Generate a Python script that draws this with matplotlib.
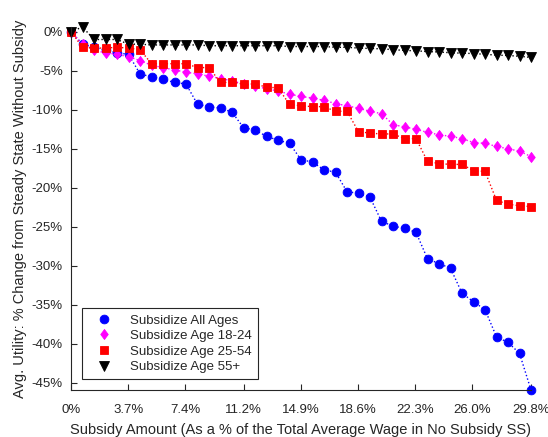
import matplotlib
matplotlib.use('Agg')
import matplotlib.pyplot as plt
from matplotlib.lines import Line2D
from matplotlib.ticker import FuncFormatter
import numpy as np

plt.rcParams['font.family'] = ['Liberation Sans', 'DejaVu Sans']

# subsidy grid: 41 steps up to 29.8% of the average wage
subsidy = np.linspace(0, 29.8, 41)

all_ages = [0, -1.6, -2.0, -2.4, -2.7, -2.9, -5.4, -5.8, -6.1, -6.5,
            -6.7, -9.3, -9.6, -9.8, -10.3, -12.3, -12.6, -13.4, -13.9, -14.3,
            -16.4, -16.7, -17.7, -18.0, -20.5, -20.7, -21.2, -24.3, -24.9, -25.2,
            -25.7, -29.1, -29.7, -30.3, -33.5, -34.6, -35.6, -39.1, -39.8, -41.2,
            -45.9]
age_18_24 = [0, -1.6, -2.4, -2.7, -2.9, -3.2, -3.7, -4.3, -4.6, -4.9,
             -5.2, -5.4, -5.7, -6.0, -6.3, -6.7, -7.0, -7.3, -7.6, -8.0,
             -8.3, -8.5, -8.8, -9.2, -9.5, -9.8, -10.2, -10.5, -11.9, -12.2,
             -12.5, -12.9, -13.2, -13.4, -13.7, -14.2, -14.3, -14.7, -15.0, -15.3,
             -16.0]
age_25_54 = [0, -2.0, -2.1, -2.1, -2.0, -2.1, -2.3, -4.1, -4.1, -4.1,
             -4.1, -4.6, -4.6, -6.5, -6.5, -6.7, -6.7, -7.1, -7.2, -9.3,
             -9.5, -9.6, -9.6, -10.2, -10.2, -12.8, -13.0, -13.1, -13.1, -13.7,
             -13.7, -16.6, -16.9, -17.0, -17.0, -17.8, -17.9, -21.6, -22.1, -22.3,
             -22.4]
age_55_plus = [0, 0.6, -1.0, -1.0, -1.0, -1.6, -1.6, -1.7, -1.7, -1.7,
               -1.7, -1.7, -1.8, -1.8, -1.8, -1.8, -1.8, -1.8, -1.8, -1.9,
               -1.9, -1.9, -1.9, -2.0, -2.0, -2.1, -2.15, -2.2, -2.3, -2.4,
               -2.45, -2.55, -2.6, -2.7, -2.75, -2.8, -2.9, -3.0, -3.05, -3.15,
               -3.3]

labels = ['Subsidize All Ages', 'Subsidize Age 18-24',
          'Subsidize Age 25-54', 'Subsidize Age 55+']
colors = ['#0000ff', '#ff00ff', '#ff0000', '#000000']
# diamond a bit narrower than it is tall
diamond = [(0, 1), (0.75, 0), (0, -1), (-0.75, 0), (0, 1)]
markers = ['o', diamond, 's', 'v']
sizes = [6.3, 7.2, 6.0, 6.6]
series = [all_ages, age_18_24, age_25_54, age_55_plus]

xticks = [0, 3.7, 7.4, 11.2, 14.9, 18.6, 22.3, 26.0, 29.8]
xtick_labels = ['0%', '3.7%', '7.4%', '11.2%', '14.9%', '18.6%', '22.3%', '26.0%', '29.8%']

fig = plt.figure(figsize=(5.48, 4.37), dpi=100)
ax = fig.add_axes([71/548, 47/437, 460/548, 363/437])

handles = []
for y, c, m, s, lab in zip(series, colors, markers, sizes, labels):
    ax.plot(subsidy, y, linestyle=':', color=c, lw=1.0, marker=m, ms=s,
            mfc=c, mec=c, mew=0.6, clip_on=False)
    handles.append(Line2D([], [], linestyle='none', marker=m, ms=s,
                          mfc=c, mec=c, mew=0.6, label=lab))

ax.set_xlim(0, 29.8)
ax.set_ylim(-45.9, 0.6)
ax.set_xticks(xticks)
ax.set_xticklabels(xtick_labels)
ax.set_yticks(np.arange(-45, 1, 5))
ax.yaxis.set_major_formatter(FuncFormatter(lambda v, p: '%d%%' % round(v)))

for side in ['top', 'right']:
    ax.spines[side].set_visible(False)
for side in ['left', 'bottom']:
    ax.spines[side].set_color('#262626')
    ax.spines[side].set_linewidth(0.8)
ax.tick_params(direction='in', length=4, width=0.8, colors='#262626',
               labelsize=9.5, pad=6)
ax.tick_params(axis='x', pad=10)

ax.set_xlabel('Subsidy Amount (As a % of the Total Average Wage in No Subsidy SS)',
              fontsize=10.5, color='#262626', labelpad=5)
ax.set_ylabel('Avg. Utility: % Change from Steady State Without Subsidy',
              fontsize=10.5, color='#262626', labelpad=3)

leg = ax.legend(handles=handles, loc='lower left', fontsize=9.5,
                bbox_to_anchor=(0.024, 0.03), borderaxespad=0, fancybox=False,
                edgecolor='#262626', framealpha=1, handletextpad=0.8,
                borderpad=0.45, labelspacing=0.25, handlelength=2.4)
leg.get_frame().set_linewidth(0.8)
for t in leg.get_texts():
    t.set_color('#262626')

fig.savefig('out.png', dpi=100)
